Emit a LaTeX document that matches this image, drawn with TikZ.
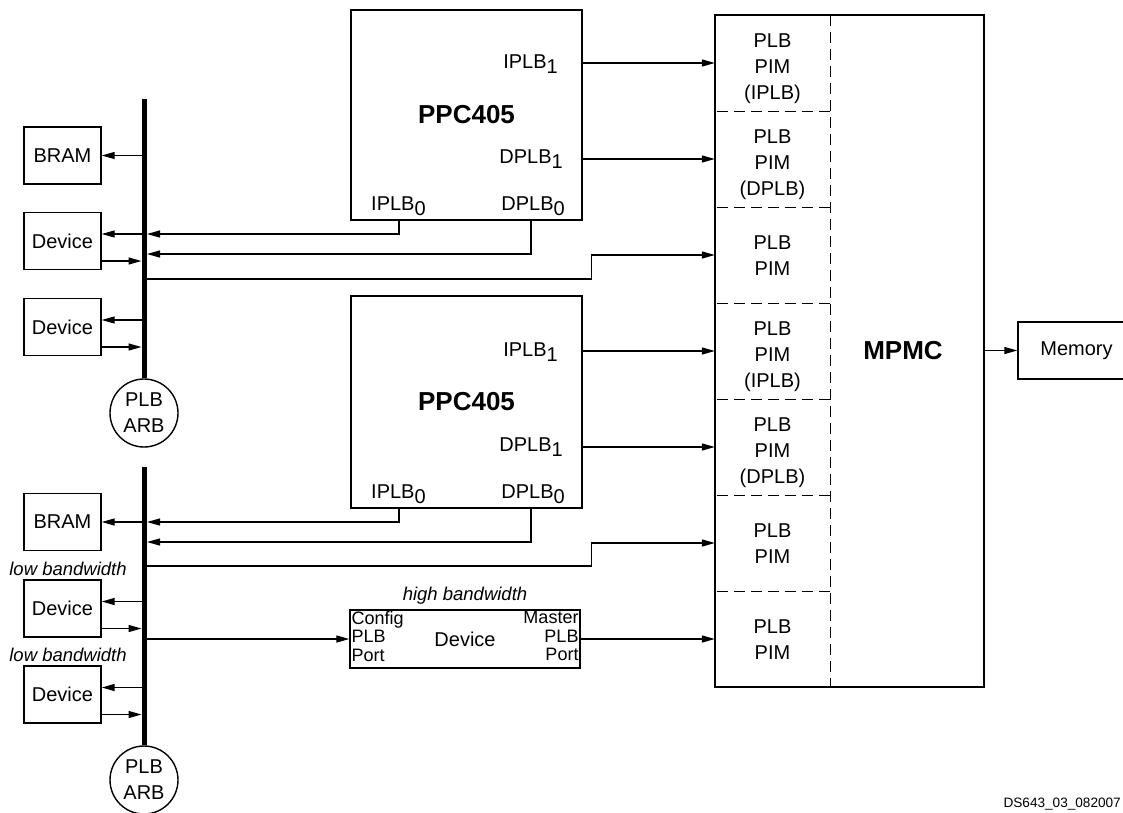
\documentclass[tikz,border=0pt]{standalone}
\usepackage{fontspec}
\setmainfont{Liberation Sans}
\usetikzlibrary{arrows.meta, positioning}

\newcommand{\psub}[1]{\raisebox{-5pt}{#1}}

\begin{document}
\begin{tikzpicture}[
  x=1pt, y=-1pt, >={Triangle[length=13pt,width=7pt]},
  box/.style={draw, line width=1.4pt, minimum width=77pt, minimum height=57pt, inner sep=0pt, font=\fontsize{20}{26}\selectfont},
  cpu/.style={draw, line width=2.8pt, minimum width=231pt, inner sep=0pt, font=\bfseries\fontsize{26}{30}\selectfont},
  arb/.style={circle, draw, line width=1.4pt, minimum size=68pt, inner sep=0pt, align=center, font=\fontsize{20}{26}\selectfont},
  bus/.style={line width=5pt},
  conn/.style={->, line width=1.3pt},
  port/.style={inner sep=0pt, font=\fontsize{20}{24}\selectfont},
  pim/.style={minimum width=115pt, minimum height=96pt, inner sep=0pt},
  pimtext/.style={inner sep=0pt, align=center, font=\fontsize{20}{26}\selectfont},
  sep/.style={line width=1.4pt, dash pattern=on 11pt off 6pt},
  note/.style={inner sep=0pt, font=\itshape\fontsize{18.5}{20}\selectfont},
  small/.style={inner sep=2pt, align=left, font=\fontsize{18}{18.3}\selectfont}
]
\useasboundingbox (0,0) rectangle (1123,812);

% upper PLB bus
\node[box] (bram1) at (62.5,155.5) {BRAM};
\node[box] (dev1)  at (62.5,241)   {Device};
\node[box] (dev2)  at (62.5,327)   {Device};
\node[arb] (arb1)  at (144,413)    {PLB\\ARB};
\coordinate (bus1top) at (144,99);
\draw[bus] (bus1top) -- (arb1.north);

% lower PLB bus
\node[box] (bram2) at (62.5,522)   {BRAM};
\node[box] (dev3)  at (62.5,608.5) {Device};
\node[box] (dev4)  at (62.5,694.5) {Device};
\node[arb] (arb2)  at (144,780)    {PLB\\ARB};
\coordinate (bus2top) at (144,467);
\draw[bus] (bus2top) -- (arb2.north);

\node[note] (lbw1) at (68,569) {low bandwidth};
\node[note] (lbw2) at (68,655) {low bandwidth};

% bus to slaves
\draw[conn] (bram1.east -| bus1top) -- (bram1.east);
\draw[conn] (bram2.east -| bus2top) -- (bram2.east);
\foreach \d/\b in {dev1/bus1top, dev2/bus1top, dev3/bus2top, dev4/bus2top} {
  \draw[conn] ([yshift=7pt]\d.east -| \b) -- ([yshift=7pt]\d.east);
  \draw[conn, shorten >=2.5pt] ([yshift=-20pt]\d.east) -- ([yshift=-20pt]\d.east -| \b);
}

% processors
\node[cpu, minimum height=210pt] (ppcA) at (466.5,115) {PPC405};
\node[port, anchor=base east] (ipA1) at (558,68)  {IPLB\psub{1}};
\node[port, anchor=base east] (dpA1) at (563,163) {DPLB\psub{1}};
\node[port, anchor=base west] (ipA0) at (371,210) {IPLB\psub{0}};
\node[port, anchor=base east] (dpA0) at (565,210) {DPLB\psub{0}};

\node[cpu, minimum height=212pt] (ppcB) at (466.5,402) {PPC405};
\node[port, anchor=base east] (ipB1) at (558,356) {IPLB\psub{1}};
\node[port, anchor=base east] (dpB1) at (563,451) {DPLB\psub{1}};
\node[port, anchor=base west] (ipB0) at (371,498) {IPLB\psub{0}};
\node[port, anchor=base east] (dpB0) at (565,498) {DPLB\psub{0}};

% high bandwidth device
\node[note] (hbw) at (465,596) {high bandwidth};
\node[box, minimum width=230pt, minimum height=58pt] (hdev) at (465,639) {Device};
\node[small, anchor=north west] (hcfg) at (hdev.north west) {Config\\PLB\\Port};
\node[small, anchor=north east, align=right] (hmst) at (hdev.north east) {Master\\PLB\\Port};

% MPMC
\node[draw, line width=2.8pt, minimum width=269pt, minimum height=672pt] (mpmc) at (849.5,351) {};
\node[font=\bfseries\fontsize{26}{30}\selectfont] (mpmclbl) at (903,351) {MPMC};
\foreach \i/\t/\dy in {1/{PLB\\PIM\\(IPLB)}/-6, 2/{PLB\\PIM\\(DPLB)}/-6, 3/{PLB\\PIM}/-1,
                       4/{PLB\\PIM\\(IPLB)}/-6, 5/{PLB\\PIM\\(DPLB)}/-6, 6/{PLB\\PIM}/-1, 7/{PLB\\PIM}/-1} {
  \node[pim] (pim\i) at (772.5,{63+96*(\i-1)}) {};
  \node[pimtext] (pimt\i) at ([yshift=\dy pt]pim\i.center) {\t};
}
\foreach \i in {1,...,6}
  \draw[sep] ([xshift=2pt]pim\i.south west) -- (pim\i.south east);
\draw[sep] (pim1.north east) -- (pim7.south east);

\node[box, minimum width=117pt] (mem) at (1076.5,350.5) {Memory};
\draw[conn] (mpmc.east |- mem.west) -- (mem.west);

% processor ports
\coordinate (ipA) at (399,220);
\coordinate (dpA) at (531,220);
\coordinate (ipB) at (399,508);
\coordinate (dpB) at (531,508);
\coordinate (tapA1) at (147,234);
\coordinate (tapA2) at (147,254);
\coordinate (tapA3) at (144,279);
\coordinate (tapB1) at (147,522);
\coordinate (tapB2) at (147,542);
\coordinate (tapB3) at (144,566);

\draw[conn] (ppcA.east |- pim1.west) -- (pim1.west);
\draw[conn] (ppcA.east |- pim2.west) -- (pim2.west);
\draw[conn] (ipA) |- (tapA1);
\draw[conn] (dpA) |- (tapA2);
\draw[conn] (tapA3) -| ([xshift=-123pt]pim3.west) -- (pim3.west);

\draw[conn] (ppcB.east |- pim4.west) -- (pim4.west);
\draw[conn] (ppcB.east |- pim5.west) -- (pim5.west);
\draw[conn] (ipB) |- (tapB1);
\draw[conn] (dpB) |- (tapB2);
\draw[conn] (tapB3) -| ([xshift=-123pt]pim6.west) -- (pim6.west);

\draw[conn] (hdev.west -| bus2top) -- (hdev.west);
\draw[conn] (hdev.east) -- (pim7.west);

\node[anchor=base east, inner sep=0pt, font=\fontsize{13.6}{14}\selectfont] (dsid) at (1121,807) {DS643\_03\_082007};
\end{tikzpicture}
\end{document}
